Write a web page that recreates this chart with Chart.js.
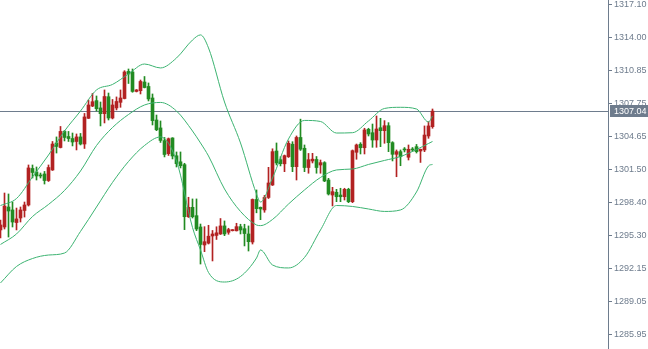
<!DOCTYPE html>
<html lang="en">
<head>
    <meta charset="UTF-8">
    <title>Candles with Bollinger Bands</title>
    <script src="https://cdn.jsdelivr.net/npm/chart.js"></script>
    <style>
        body {
            margin: 0;
            background-color: #ffffff;
        }
        .chart-container {
            width: 648px;
            height: 349px;
        }
    </style>
</head>
<body>
    <div class="chart-container">
        <canvas id="priceChart"></canvas>
    </div>

    <script>
        // candle OHLC, one entry per bar
        const openV = [
            1295.81,1296.09,1297.98,1297.70,1296.51,1296.94,1297.65,1298.17,1301.62,1301.29,
            1301.00,1301.10,1300.48,1301.48,1304.03,1303.60,1305.12,1304.64,1304.45,1304.17,
            1304.60,1303.93,1306.36,1307.52,1308.03,1307.34,1306.80,1308.40,1306.39,1307.34,
            1307.87,1308.23,1310.79,1310.74,1308.90,1308.97,1309.79,1309.37,1308.28,1306.20,
            1305.45,1304.25,1303.02,1304.50,1302.82,1302.25,1301.98,1297.06,1297.95,1297.16,
            1296.09,1294.39,1294.56,1295.24,1295.29,1295.43,1296.19,1295.59,1295.74,1295.73,
            1296.12,1295.93,1295.43,1294.67,1298.69,1297.95,1297.70,1298.88,1300.06,1303.27,
            1302.45,1302.06,1302.73,1303.91,1301.79,1304.55,1303.53,1301.71,1302.33,1302.47,
            1301.95,1302.17,1300.53,1299.11,1299.37,1299.11,1298.95,1299.65,1298.48,1303.15,
            1303.91,1303.58,1305.32,1305.00,1304.31,1305.47,1305.19,1305.66,1304.06,1302.96,
            1303.21,1303.46,1302.68,1303.46,1303.68,1303.27,1303.37,1304.69,1305.57];
        const highV = [
            1296.75,1299.30,1299.21,1298.45,1297.88,1297.98,1298.45,1301.95,1301.95,1301.76,
            1301.19,1301.34,1301.95,1304.17,1304.60,1305.59,1305.21,1305.12,1304.97,1304.88,
            1304.93,1306.82,1308.09,1308.71,1308.47,1307.90,1309.04,1308.75,1308.14,1308.38,
            1309.04,1310.86,1311.02,1311.02,1309.08,1309.98,1310.31,1309.70,1308.66,1306.67,
            1306.11,1304.55,1304.50,1304.53,1303.18,1303.18,1302.11,1298.90,1298.74,1298.74,
            1296.37,1296.12,1296.25,1295.76,1296.11,1296.89,1296.66,1295.97,1295.85,1296.44,
            1296.35,1296.35,1296.19,1298.74,1299.59,1297.98,1299.07,1301.73,1303.48,1304.03,
            1302.73,1302.89,1304.22,1304.15,1304.69,1306.28,1303.84,1303.04,1303.05,1302.75,
            1302.42,1302.26,1300.69,1299.84,1299.65,1299.75,1299.75,1299.75,1303.37,1303.93,
            1304.06,1305.42,1305.42,1305.82,1306.58,1306.36,1306.14,1305.95,1304.15,1303.37,
            1303.37,1303.60,1303.84,1303.60,1303.89,1303.46,1305.64,1306.04,1307.24];
        const lowV = [
            1295.05,1295.90,1295.14,1296.09,1295.81,1296.56,1297.03,1298.07,1300.72,1300.53,
            1300.72,1300.15,1300.39,1301.43,1303.08,1303.56,1304.22,1304.17,1303.75,1303.37,
            1303.84,1303.51,1306.34,1307.46,1307.05,1305.64,1305.92,1306.20,1306.30,1307.15,
            1307.40,1308.19,1309.65,1308.82,1308.85,1308.66,1309.23,1308.00,1305.73,1305.19,
            1304.08,1302.71,1302.85,1302.52,1301.76,1301.67,1295.84,1296.99,1296.94,1295.74,
            1292.59,1293.76,1294.48,1292.88,1294.91,1295.38,1295.27,1295.40,1295.71,1295.71,
            1295.43,1294.30,1293.82,1294.48,1297.43,1296.78,1297.48,1298.78,1300.01,1301.95,
            1301.86,1301.32,1302.66,1301.32,1300.53,1303.32,1301.32,1301.17,1302.14,1301.17,
            1301.17,1300.37,1299.11,1298.08,1298.48,1298.48,1298.64,1298.39,1298.39,1302.49,
            1302.99,1302.99,1304.69,1303.62,1303.62,1303.68,1304.00,1303.21,1302.33,1300.84,
            1301.88,1303.18,1302.42,1303.23,1303.08,1302.19,1303.21,1304.47,1305.42];
        const closeV = [
            1296.28,1298.07,1297.60,1296.56,1296.85,1297.70,1298.17,1301.67,1301.24,1300.91,
            1300.91,1300.48,1301.71,1303.93,1303.70,1305.12,1304.55,1304.45,1304.12,1304.60,
            1303.93,1306.49,1307.62,1307.93,1307.27,1306.80,1308.42,1306.39,1307.62,1307.95,
            1308.28,1310.74,1310.55,1308.90,1309.04,1309.84,1309.27,1308.19,1306.14,1305.28,
            1304.27,1302.94,1304.43,1302.80,1302.07,1301.88,1297.06,1297.95,1297.06,1295.90,
            1294.44,1294.70,1295.22,1295.43,1295.54,1296.19,1295.43,1295.84,1295.84,1296.12,
            1295.81,1295.47,1294.70,1298.69,1297.82,1297.79,1298.88,1300.25,1303.21,1302.14,
            1302.07,1302.83,1304.00,1301.79,1304.55,1303.44,1301.71,1302.45,1302.50,1301.71,
            1302.17,1300.44,1299.21,1299.43,1298.95,1298.95,1299.65,1298.48,1303.30,1303.84,
            1303.58,1305.26,1304.88,1304.31,1305.35,1305.19,1305.66,1304.06,1302.96,1303.21,
            1302.73,1303.37,1303.43,1303.37,1303.21,1303.43,1304.78,1305.64,1307.04];

        // bollinger band readings at these bar indexes
        const bandIdx = [0,4,8,12,16,20,24,28,32,36,40,44,48,50,52,56,60,64,65,68,72,76,80,84,88,92,96,100,104,107,108];
        const upperBand = [1298.12,1298.78,1300.82,1302.89,1305.16,1307.05,1309.04,1309.56,1310.55,1311.49,1311.12,1312.06,1313.76,1314.24,1313.01,1307.90,1304.03,1299.21,1298.45,1300.72,1304.41,1306.16,1306.06,1304.97,1305.00,1306.11,1307.29,1307.40,1307.24,1306.01,1306.58];
        const middleBand = [1294.44,1295.43,1297.08,1298.22,1299.54,1301.38,1303.79,1305.49,1306.72,1307.62,1307.86,1307.05,1305.16,1304.03,1302.80,1299.68,1297.56,1296.28,1296.22,1296.80,1298.26,1299.59,1300.77,1301.48,1301.57,1302.00,1302.38,1302.75,1303.41,1303.98,1304.17];
        const lowerBand = [1290.80,1292.36,1293.11,1293.44,1293.63,1295.67,1297.98,1300.30,1302.28,1303.79,1304.60,1302.33,1296.04,1293.92,1291.79,1290.89,1291.41,1293.16,1293.92,1292.50,1292.22,1293.21,1295.81,1298.12,1298.03,1297.79,1297.56,1297.70,1299.40,1301.86,1302.00];

        const tickValues = [1317.10, 1314.00, 1310.85, 1307.75, 1304.65, 1301.50, 1298.40, 1295.30, 1292.15, 1289.05, 1285.95];
        const lastPrice = 1307.04;

        const upColor = '#b22222';
        const downColor = '#228b22';
        const bandColor = '#3cb371';
        const axisColor = '#6e7c8d';

        const idx = openV.map((v, i) => i);
        const candleColors = idx.map(i => closeV[i] >= openV[i] ? upColor : downColor);
        const bandLine = (vals) => bandIdx.map((x, k) => ({ x: x, y: vals[k] }));

        // horizontal line + tag for the last price
        const lastPricePlugin = {
            id: 'lastPrice',
            beforeDatasetsDraw(chart) {
                const ctx = chart.ctx;
                const y = Math.round(chart.scales.y.getPixelForValue(lastPrice)) + 0.5;
                ctx.save();
                ctx.strokeStyle = axisColor;
                ctx.lineWidth = 1;
                ctx.beginPath();
                ctx.moveTo(chart.chartArea.left, y);
                ctx.lineTo(chart.chartArea.right, y);
                ctx.stroke();
                ctx.restore();
            },
            afterDraw(chart) {
                const ctx = chart.ctx;
                const y = Math.round(chart.scales.y.getPixelForValue(lastPrice));
                const x = chart.chartArea.right + 2;
                ctx.save();
                ctx.fillStyle = axisColor;
                ctx.fillRect(x, y - 6, chart.width - x, 12);
                ctx.fillStyle = '#ffffff';
                ctx.font = '9px "Liberation Sans", Arial, sans-serif';
                ctx.textBaseline = 'middle';
                ctx.fillText(lastPrice.toFixed(2), x + 4, y + 0.5);
                ctx.restore();
            }
        };

        const priceChart = new Chart(document.getElementById('priceChart'), {
            type: 'bar',
            data: {
                datasets: [
                    {
                        type: 'line',
                        data: bandLine(upperBand),
                        borderColor: bandColor,
                        borderWidth: 1,
                        pointRadius: 0,
                        cubicInterpolationMode: 'monotone',
                        order: 0
                    },
                    {
                        type: 'line',
                        data: bandLine(middleBand),
                        borderColor: bandColor,
                        borderWidth: 1,
                        pointRadius: 0,
                        cubicInterpolationMode: 'monotone',
                        order: 0
                    },
                    {
                        type: 'line',
                        data: bandLine(lowerBand),
                        borderColor: bandColor,
                        borderWidth: 1,
                        pointRadius: 0,
                        cubicInterpolationMode: 'monotone',
                        order: 0
                    },
                    {
                        // bodies
                        data: idx.map(i => ({ x: i, y: [openV[i], closeV[i]] })),
                        backgroundColor: candleColors,
                        barThickness: 3,
                        minBarLength: 1,
                        grouped: false,
                        order: 1
                    },
                    {
                        // wicks
                        data: idx.map(i => ({ x: i, y: [lowV[i], highV[i]] })),
                        backgroundColor: candleColors,
                        barThickness: 1,
                        grouped: false,
                        order: 2
                    }
                ]
            },
            options: {
                responsive: true,
                maintainAspectRatio: false,
                animation: false,
                layout: { padding: 0 },
                scales: {
                    x: {
                        type: 'linear',
                        display: false,
                        offset: false,
                        min: -0.125,
                        max: 151.875
                    },
                    y: {
                        position: 'right',
                        min: 1284.56,
                        max: 1317.54,
                        afterBuildTicks: function(scale) {
                            scale.ticks = tickValues.map(v => ({ value: v }));
                        },
                        afterFit: function(scale) {
                            scale.width = 40;
                            scale.paddingTop = 0;
                            scale.paddingBottom = 0;
                        },
                        grid: {
                            drawOnChartArea: false,
                            drawTicks: true,
                            tickLength: 4,
                            color: axisColor
                        },
                        border: {
                            display: true,
                            color: axisColor
                        },
                        ticks: {
                            padding: 2,
                            color: axisColor,
                            autoSkip: false,
                            font: { family: '"Liberation Sans", Arial, sans-serif', size: 9 },
                            callback: function(value) {
                                return Number(value).toFixed(2);
                            }
                        }
                    }
                },
                plugins: {
                    legend: { display: false },
                    tooltip: { enabled: false }
                }
            },
            plugins: [lastPricePlugin]
        });
    </script>
</body>
</html>
